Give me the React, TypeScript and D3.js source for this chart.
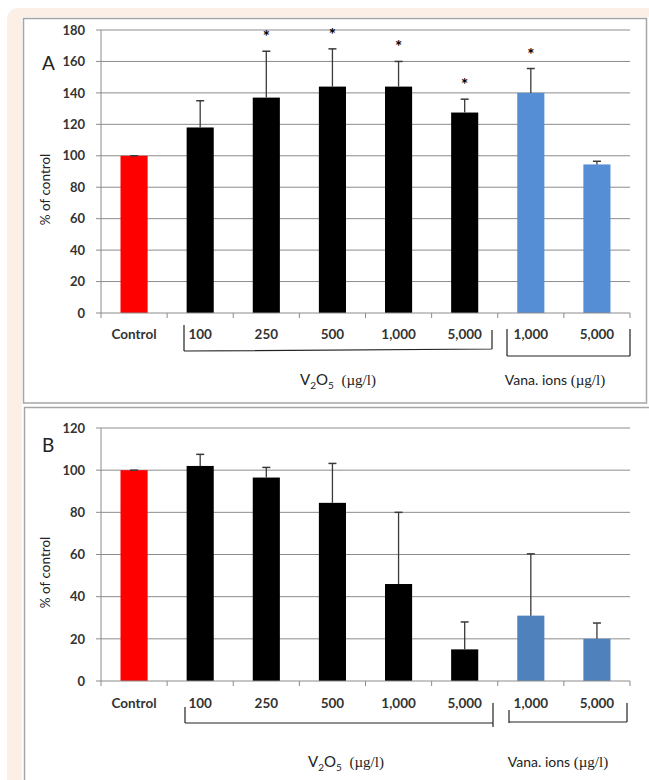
import React, { useRef, useEffect } from 'react';
import * as d3 from 'd3';

// categories along the x axis
const categories = ['Control', '100', '250', '500', '1,000', '5,000', '1,000', '5,000'];
const groups = ['control', 'v2o5', 'v2o5', 'v2o5', 'v2o5', 'v2o5', 'ions', 'ions'];

// panel A values (% of control) and upper error
const meansA = [100, 118, 137, 144, 144, 127.5, 140, 94.5];
const errorsA = [0, 17, 29.5, 24, 16, 8.5, 15.5, 2];
const starsA = [false, false, true, true, true, true, true, false];
const ticksA = [0, 20, 40, 60, 80, 100, 120, 140, 160, 180];

// panel B values
const meansB = [100, 102, 96.5, 84.5, 46, 15, 31, 20];
const errorsB = [0, 5.5, 4.8, 18.7, 34, 13, 29.3, 7.5];
const starsB = [false, false, false, false, false, false, false, false];
const ticksB = [0, 20, 40, 60, 80, 100, 120];

const FONT = 'Lato, "Open Sans", sans-serif';

const drawPanel = (svg, opts) => {
  const { means, errors, stars, ticks, top, base, letter, letterY, blue, labelY, bracket, groupY, groupX } = opts;

  const x = d3.scaleBand().domain(d3.range(categories.length)).range([101, 630]);
  const y = d3.scaleLinear().domain([0, d3.max(ticks)]).range([base, top]);
  const barW = x.bandwidth() * 0.41;
  const color = (g) => (g === 'control' ? '#ff0000' : g === 'v2o5' ? '#000000' : blue);

  const g = svg.append('g');

  // gridlines + y ticks
  g.selectAll('.grid')
    .data(ticks.filter((t) => t > 0))
    .enter()
    .append('line')
      .attr('x1', 96)
      .attr('x2', 630)
      .attr('y1', (d) => y(d))
      .attr('y2', (d) => y(d))
      .attr('stroke', '#8c8c8c')
      .attr('stroke-width', 1);

  g.selectAll('.ytick')
    .data(ticks)
    .enter()
    .append('text')
      .attr('x', 85)
      .attr('y', (d) => y(d))
      .attr('dy', '0.36em')
      .attr('text-anchor', 'end')
      .attr('font-family', FONT)
      .attr('font-weight', 'bold')
      .attr('font-size', 13)
      .attr('fill', '#333')
      .text((d) => d);

  g.append('line')
    .attr('x1', 96).attr('x2', 101).attr('y1', base).attr('y2', base)
    .attr('stroke', '#8c8c8c');

  // y axis
  g.append('line')
    .attr('x1', 101).attr('x2', 101).attr('y1', top).attr('y2', base)
    .attr('stroke', '#8c8c8c');

  // bars
  const bars = g.selectAll('.bar')
    .data(means.map((v, i) => ({ v, i, e: errors[i], s: stars[i], grp: groups[i] })))
    .enter()
    .append('g');

  bars.append('rect')
    .attr('x', (d) => x(d.i) + x.bandwidth() / 2 - barW / 2)
    .attr('width', barW)
    .attr('y', (d) => y(d.v))
    .attr('height', (d) => base - y(d.v))
    .attr('fill', (d) => color(d.grp));

  // error bars
  bars.append('line')
    .attr('x1', (d) => x(d.i) + x.bandwidth() / 2)
    .attr('x2', (d) => x(d.i) + x.bandwidth() / 2)
    .attr('y1', (d) => y(d.v))
    .attr('y2', (d) => y(d.v + d.e))
    .attr('stroke', '#3a3a3a')
    .attr('stroke-width', 1.3);
  bars.append('line')
    .attr('x1', (d) => x(d.i) + x.bandwidth() / 2 - 4)
    .attr('x2', (d) => x(d.i) + x.bandwidth() / 2 + 4)
    .attr('y1', (d) => y(d.v + d.e))
    .attr('y2', (d) => y(d.v + d.e))
    .attr('stroke', '#3a3a3a')
    .attr('stroke-width', 1.5);

  bars.filter((d) => d.s)
    .append('text')
      .attr('x', (d) => x(d.i) + x.bandwidth() / 2)
      .attr('y', (d) => y(d.v + d.e) - 8)
      .attr('text-anchor', 'middle')
      .attr('font-family', FONT)
      .attr('font-weight', 'bold')
      .attr('font-size', 17)
      .attr('fill', '#000')
      .text('*');

  // x axis + ticks at band edges
  g.append('line')
    .attr('x1', 101).attr('x2', 630).attr('y1', base).attr('y2', base)
    .attr('stroke', '#8c8c8c');
  g.selectAll('.xtick')
    .data(d3.range(categories.length + 1))
    .enter()
    .append('line')
      .attr('x1', (d) => 101 + d * x.bandwidth())
      .attr('x2', (d) => 101 + d * x.bandwidth())
      .attr('y1', base)
      .attr('y2', base + 5)
      .attr('stroke', '#8c8c8c');

  g.selectAll('.xlabel')
    .data(categories)
    .enter()
    .append('text')
      .attr('x', (d, i) => x(i) + x.bandwidth() / 2)
      .attr('y', labelY)
      .attr('dy', '0.36em')
      .attr('text-anchor', 'middle')
      .attr('font-family', FONT)
      .attr('font-weight', 'bold')
      .attr('font-size', 13.5)
      .attr('fill', '#333')
      .text((d) => d);

  // y title
  g.append('text')
    .attr('transform', `translate(45,${(top + base) / 2 + 18}) rotate(-90)`)
    .attr('dy', '0.36em')
    .attr('text-anchor', 'middle')
    .attr('font-family', FONT)
    .attr('font-size', 13.5)
    .attr('fill', '#222')
    .text('% of control');

  // panel letter
  g.append('text')
    .attr('x', 42)
    .attr('y', letterY)
    .attr('dy', '0.36em')
    .attr('font-family', FONT)
    .attr('font-size', 19)
    .attr('fill', '#222')
    .text(letter);

  // group brackets
  const path = d3.path();
  bracket.forEach((b) => {
    path.moveTo(b[0], b[1]);
    path.lineTo(b[2], b[3]);
  });
  g.append('path')
    .attr('d', path.toString())
    .attr('fill', 'none')
    .attr('stroke', '#222')
    .attr('stroke-width', 1.2);

  const t1 = g.append('text')
    .attr('x', groupX[0])
    .attr('y', groupY)
    .attr('dy', '0.36em')
    .attr('text-anchor', 'middle')
    .attr('font-family', FONT)
    .attr('font-size', 15)
    .attr('fill', '#222');
  t1.append('tspan').text('V');
  t1.append('tspan').attr('font-size', 10).attr('dy', 4).text('2');
  t1.append('tspan').attr('dy', -4).text('O');
  t1.append('tspan').attr('font-size', 10).attr('dy', 4).text('5');
  t1.append('tspan').attr('dy', -4).attr('font-family', '"Liberation Serif", serif').text('\u00a0 (\u00b5g/l)');

  const t2 = g.append('text')
    .attr('x', groupX[1])
    .attr('y', groupY)
    .attr('dy', '0.36em')
    .attr('text-anchor', 'middle')
    .attr('font-family', FONT)
    .attr('font-size', 14)
    .attr('fill', '#222');
  t2.append('tspan').text('Vana. ions ');
  t2.append('tspan').attr('font-family', '"Liberation Serif", serif').attr('font-size', 15).text('(\u00b5g/l)');
};

const App = () => {
  const svgRef = useRef(null);

  useEffect(() => {
    const svg = d3.select(svgRef.current);
    svg.selectAll('*').remove();

    // page background + frames
    svg.append('rect')
      .attr('x', 7).attr('y', 8).attr('width', 660).attr('height', 800)
      .attr('rx', 11)
      .attr('fill', '#fcefe5');
    svg.append('rect')
      .attr('x', 22).attr('y', 17).attr('width', 627).attr('height', 780)
      .attr('fill', '#fff');
    svg.append('rect')
      .attr('x', 23.5).attr('y', 18.5).attr('width', 623).attr('height', 384.5)
      .attr('fill', '#fff')
      .attr('stroke', '#a6a6a6')
      .attr('stroke-width', 1.5);
    svg.append('rect')
      .attr('x', 24.5).attr('y', 407.5).attr('width', 640).attr('height', 400)
      .attr('fill', '#fff')
      .attr('stroke', '#a6a6a6')
      .attr('stroke-width', 1.5);

    drawPanel(svg, {
      means: meansA, errors: errorsA, stars: starsA, ticks: ticksA,
      top: 30, base: 313, letter: 'A', letterY: 63, blue: '#558ed5',
      labelY: 334, groupY: 380, groupX: [338, 555],
      bracket: [
        [184, 325, 184, 351], [184, 351, 492, 349], [492, 330, 492, 349],
        [507, 329, 507, 356], [507, 356, 630, 356], [630, 329, 630, 356],
      ],
    });

    drawPanel(svg, {
      means: meansB, errors: errorsB, stars: starsB, ticks: ticksB,
      top: 428, base: 681, letter: 'B', letterY: 445, blue: '#4f81bd',
      labelY: 703, groupY: 762, groupX: [346, 558],
      bracket: [
        [185, 707, 185, 723], [185, 723, 493, 723], [493, 703, 493, 727],
        [509, 710, 509, 723], [509, 722, 627, 722], [627, 703, 627, 722],
      ],
    });
  }, [svgRef]);

  return (
    <svg
      ref={svgRef}
      width={649}
      height={780}
      style={{ position: 'absolute', left: 0, top: 0, background: '#fff' }}
    ></svg>
  );
};

export default App;
